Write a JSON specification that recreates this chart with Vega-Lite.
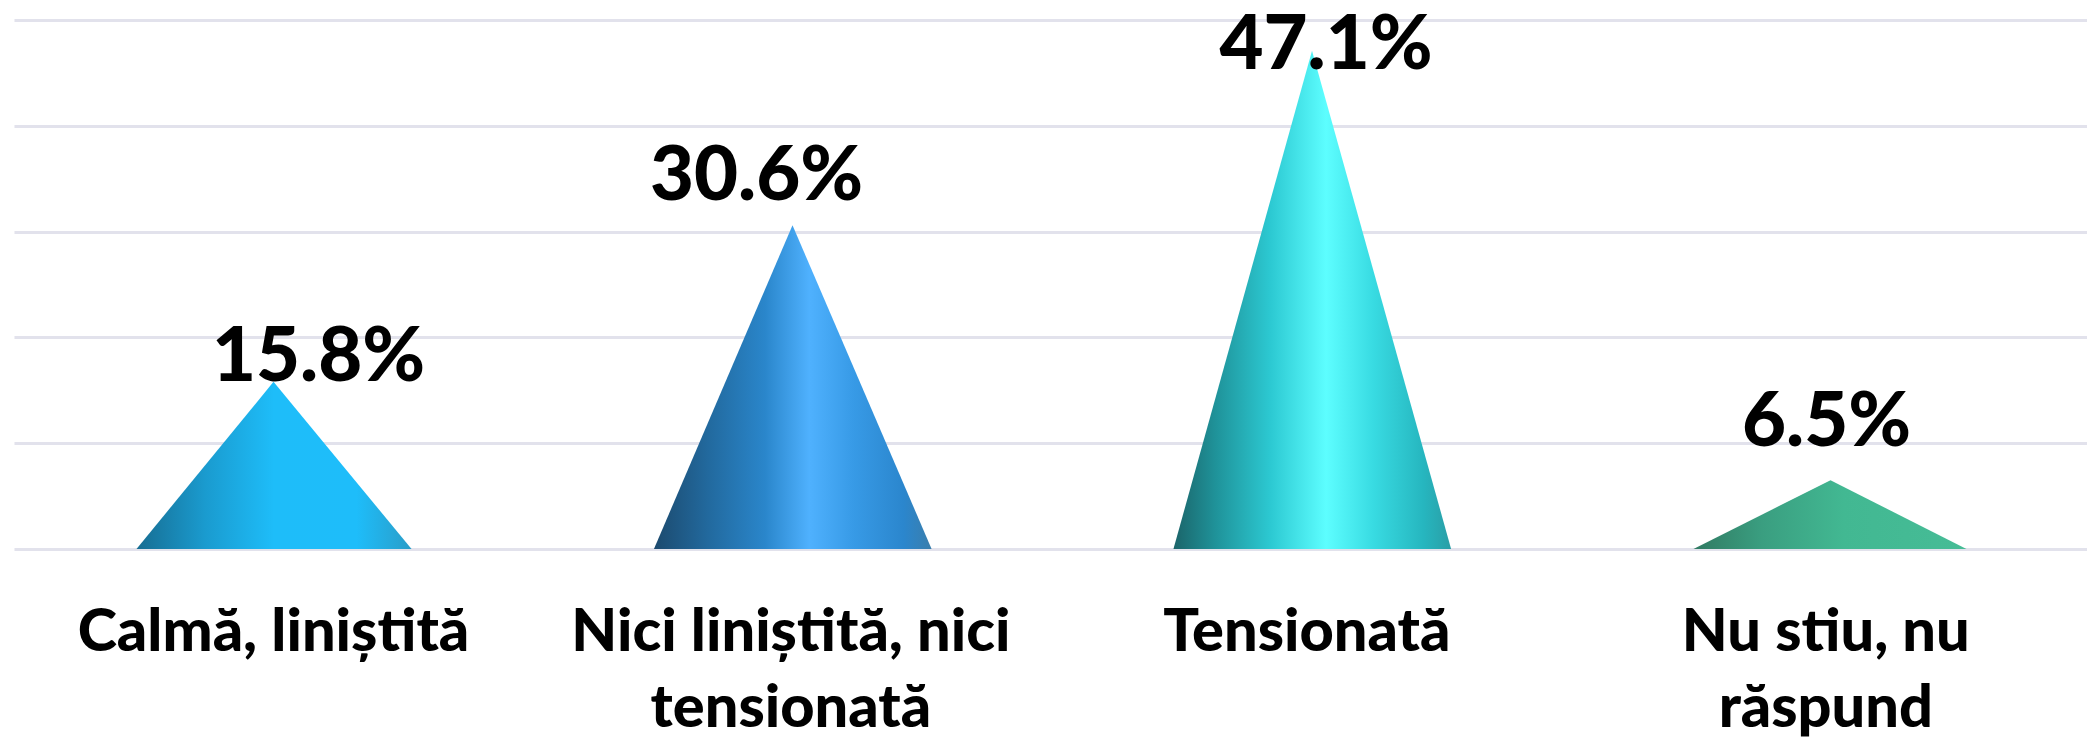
{
"$schema":"https://vega.github.io/schema/vega-lite/v6.json",
"width":2073,"height":529,
"autosize":{"type":"none"},
"padding":{"left":14,"top":20,"right":0,"bottom":190},
"background":"white",
"config":{"view":{"stroke":null}},
"datasets":{
"cones":[
{"category":"Calmă, liniștită","position":0.236,"share":0},
{"category":"Calmă, liniștită","position":0.5,"share":15.8},
{"category":"Calmă, liniștită","position":0.766,"share":0},
{"category":"Nici liniștită, nici tensionată","position":1.233,"share":0},
{"category":"Nici liniștită, nici tensionată","position":1.5,"share":30.6},
{"category":"Nici liniștită, nici tensionată","position":1.768,"share":0},
{"category":"Tensionată","position":2.234,"share":0},
{"category":"Tensionată","position":2.501,"share":47.1},
{"category":"Tensionată","position":2.769,"share":0},
{"category":"Nu stiu, nu răspund","position":3.236,"share":0},
{"category":"Nu stiu, nu răspund","position":3.5,"share":6.5},
{"category":"Nu stiu, nu răspund","position":3.762,"share":0}
]},
"data":{"name":"cones"},
"encoding":{
"x":{"field":"position","type":"quantitative","scale":{"domain":[0,3.9942],"nice":false,"zero":false},
"axis":{"title":null,"domain":false,"ticks":false,"grid":false,"values":[0.499,1.496,2.49,3.49],
"labelExpr":"datum.value<1?'Calmă, liniștită':datum.value<2?['Nici liniștită, nici','tensionată']:datum.value<3?'Tensionată':['Nu stiu, nu','răspund']",
"labelFont":"Lato","labelFontSize":59.5,"labelFontWeight":900,"labelColor":"#000000","labelLineHeight":76,"labelPadding":54,"labelLimit":900,"labelOverlap":false,"labelFlush":false,"labelBound":false,"labelAngle":0,"labelBaseline":"top"}},
"y":{"field":"share","type":"quantitative","scale":{"domain":[0,50],"nice":false},
"axis":{"title":null,"domain":false,"ticks":false,"labels":false,"grid":true,"values":[0,10,20,30,40,50],"gridColor":"#e2e2ec","gridWidth":3}}
},
"layer":[
{"transform":[{"filter":"datum.category=='Calmă, liniștită'"}],
"mark":{"type":"area","fill":{"x1":0,"x2":1,"y1":0,"y2":0,"gradient":"linear","stops":[{"offset":0,"color":"#176d92"},{"offset":0.25,"color":"#1a9bcf"},{"offset":0.5,"color":"#1ebdf9"},{"offset":0.8,"color":"#1ebdfa"},{"offset":1,"color":"#2a9dc8"}]}}},
{"transform":[{"filter":"datum.category=='Nici liniștită, nici tensionată'"}],
"mark":{"type":"area","fill":{"x1":0,"x2":1,"y1":0,"y2":0,"gradient":"linear","stops":[{"offset":0,"color":"#1c4a6e"},{"offset":0.2,"color":"#226a9f"},{"offset":0.4,"color":"#2a86cb"},{"offset":0.56,"color":"#4fb1fe"},{"offset":0.72,"color":"#379ae6"},{"offset":0.9,"color":"#2b86cd"},{"offset":1,"color":"#3a7eac"}]}}},
{"transform":[{"filter":"datum.category=='Tensionată'"}],
"mark":{"type":"area","fill":{"x1":0,"x2":1,"y1":0,"y2":0,"gradient":"linear","stops":[{"offset":0,"color":"#1b6469"},{"offset":0.15,"color":"#1f9299"},{"offset":0.35,"color":"#2cc9d2"},{"offset":0.55,"color":"#5dfeff"},{"offset":0.72,"color":"#38dbe2"},{"offset":0.9,"color":"#26b6bf"},{"offset":1,"color":"#2a9ea6"}]}}},
{"transform":[{"filter":"datum.category=='Nu stiu, nu răspund'"}],
"mark":{"type":"area","fill":{"x1":0,"x2":1,"y1":0,"y2":0,"gradient":"linear","stops":[{"offset":0,"color":"#307a62"},{"offset":0.25,"color":"#3a9e80"},{"offset":0.55,"color":"#42b892"},{"offset":1,"color":"#46bc96"}]}}},
{"transform":[{"filter":"datum.share>0 && datum.category=='Calmă, liniștită'"}],
"mark":{"type":"text","font":"Lato","fontWeight":900,"fontSize":76,"baseline":"alphabetic","align":"center","color":"#000000","dx":45,"dy":-1},
"encoding":{"text":{"value":"15.8%"}}},
{"transform":[{"filter":"datum.share>0 && datum.category=='Nici liniștită, nici tensionată'"}],
"mark":{"type":"text","font":"Lato","fontWeight":900,"fontSize":76,"baseline":"alphabetic","align":"center","color":"#000000","dx":-36,"dy":-25},
"encoding":{"text":{"value":"30.6%"}}},
{"transform":[{"filter":"datum.share>0 && datum.category=='Tensionată'"}],
"mark":{"type":"text","font":"Lato","fontWeight":900,"fontSize":76,"baseline":"alphabetic","align":"center","color":"#000000","dx":14,"dy":18},
"encoding":{"text":{"value":"47.1%"}}},
{"transform":[{"filter":"datum.share>0 && datum.category=='Nu stiu, nu răspund'"}],
"mark":{"type":"text","font":"Lato","fontWeight":900,"fontSize":76,"baseline":"alphabetic","align":"center","color":"#000000","dx":-4,"dy":-34},
"encoding":{"text":{"value":"6.5%"}}}
]
}
